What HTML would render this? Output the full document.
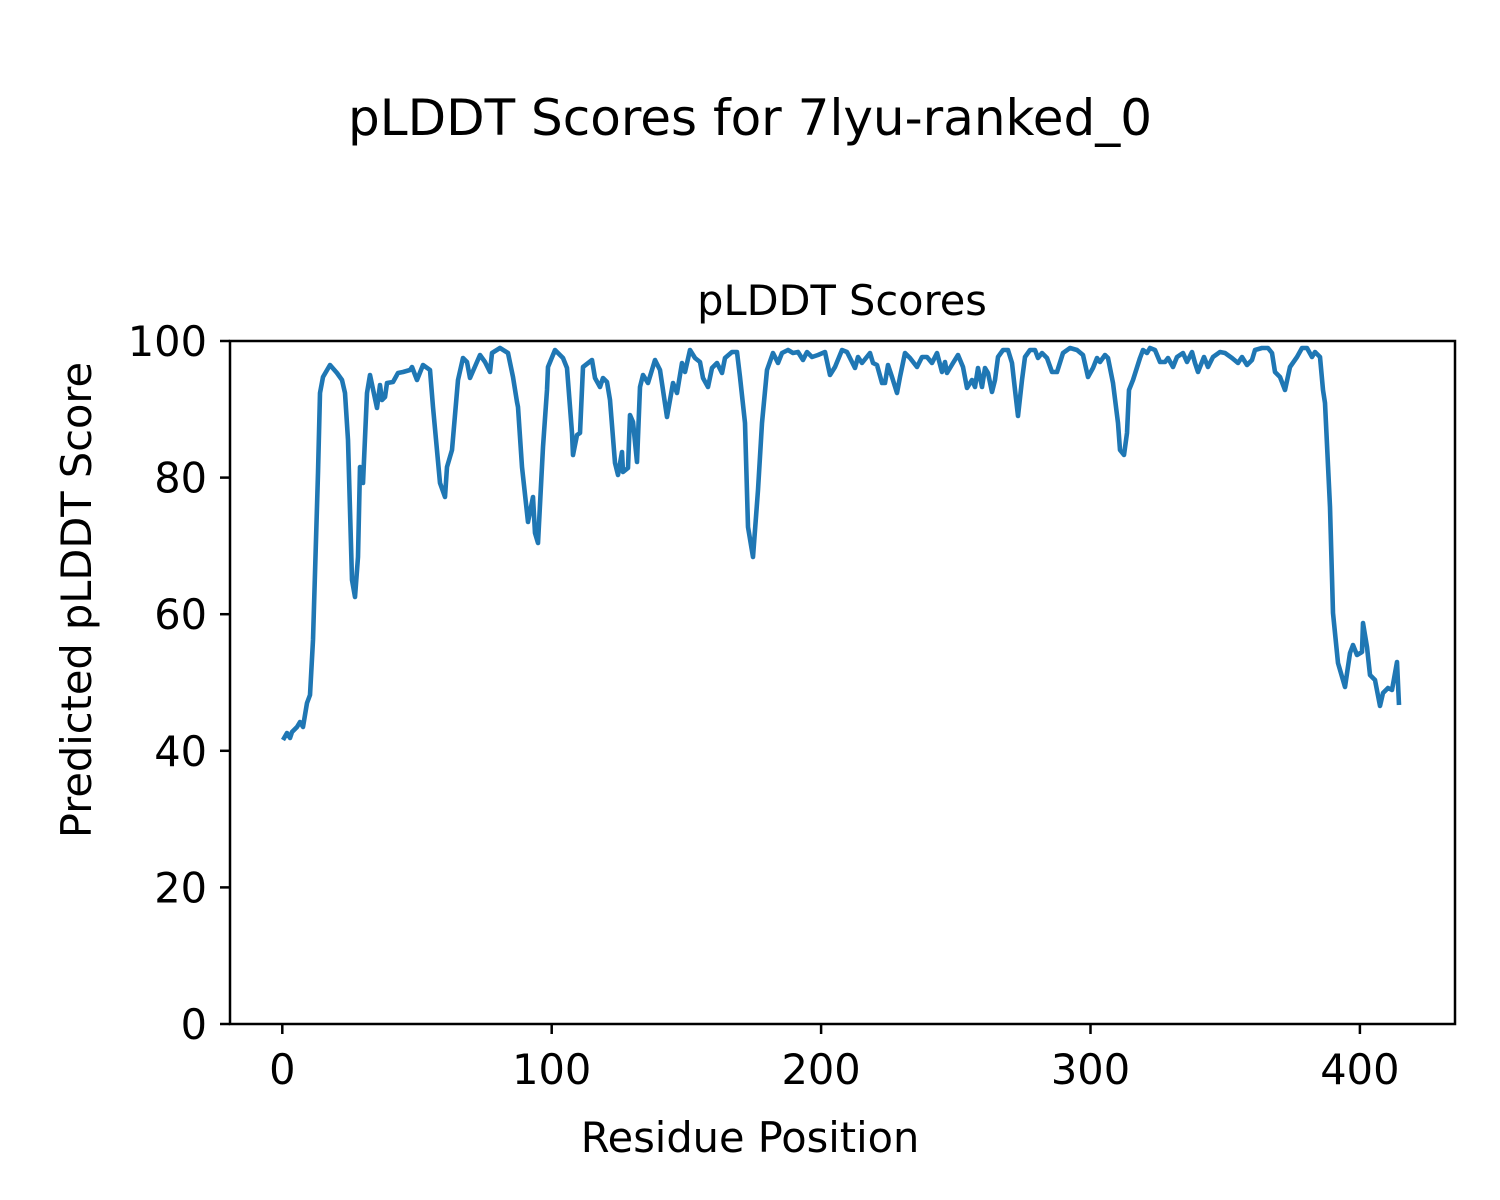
<!DOCTYPE html>
<html><head><meta charset="utf-8"><style>body{margin:0;background:#fff}svg{display:block}</style></head>
<body>
<svg width="1500" height="1200" xmlns="http://www.w3.org/2000/svg" font-family="DejaVu Sans, Liberation Sans, sans-serif">
<rect width="1500" height="1200" fill="#fff"/>
<text x="750" y="135" font-size="50" text-anchor="middle">pLDDT Scores for 7lyu-ranked_0</text>
<text x="842" y="315" font-size="41.5" text-anchor="middle">pLDDT Scores</text>
<polyline fill="none" stroke="#1f77b4" stroke-width="4.6" stroke-linejoin="round" stroke-linecap="butt" points="
283,740 287,733 290,738 292,732 297,727 300,722 303,727 307,703 310,695 313,640 318,473 320,393 323,377 330,365 337,373 342,380 345,393 348,440 352,580 355,597 358,557 360,467 363,483 367,393 370,375 377,408 380,385 382,400 385,397 387,383 393,382 398,373 403,372 410,370 412,367 417,380 423,365 430,370 433,407 440,483 445,497 447,467 452,450 458,380 463,358 467,362 470,378 480,355 485,362 490,372 492,353 500,348 508,353 513,377 517,402 518,407 522,467 528,522 533,497 535,533 538,543 543,447 547,390 548,367 555,350 563,358 567,368 572,433 573,455 577,435 580,433 583,367 592,360 595,378 600,387 603,378 607,382 610,400 615,463 618,475 622,452 623,472 628,468 630,415 633,422 637,462 640,387 643,375 648,383 655,360 660,370 667,417 673,383 677,393 682,363 685,372 690,350 695,358 700,362 703,378 708,387 712,368 717,363 722,373 725,358 732,352 737,352 740,377 745,423 748,527 753,557 758,490 762,423 767,370 773,353 778,363 782,353 788,350 793,353 798,352 803,360 807,352 812,357 818,355 825,352 830,375 835,367 842,350 847,352 855,368 858,357 862,363 870,353 873,363 877,365 882,383 885,383 888,365 892,377 897,393 900,377 905,353 910,358 917,367 922,357 927,357 932,363 937,353 942,372 945,362 947,373 953,363 958,355 963,367 967,388 972,380 975,387 978,368 982,387 985,368 988,373 992,392 995,380 998,357 1003,350 1008,350 1012,363 1015,390 1018,416 1022,380 1025,357 1030,350 1035,350 1038,358 1042,353 1047,358 1052,372 1057,372 1063,353 1070,348 1077,350 1083,355 1088,377 1093,368 1097,358 1100,362 1105,355 1108,358 1113,383 1118,423 1120,450 1124,455 1127,433 1129,390 1133,380 1140,358 1143,350 1147,353 1150,348 1155,350 1160,362 1165,362 1168,358 1173,367 1177,357 1183,353 1187,362 1192,352 1195,363 1198,372 1204,357 1208,367 1213,357 1220,352 1225,353 1232,358 1238,363 1242,357 1247,365 1252,360 1255,350 1262,348 1268,348 1272,353 1275,372 1280,377 1285,390 1290,367 1297,357 1302,348 1307,348 1312,357 1315,352 1320,357 1323,390 1325,403 1330,507 1333,613 1338,663 1345,687 1350,653 1353,645 1357,655 1362,652 1363,623 1367,647 1370,675 1375,680 1380,706 1383,693 1388,688 1392,690 1397,662 1399,705"/>
<rect x="230" y="341" width="1225" height="683" fill="none" stroke="#000" stroke-width="2.5"/>
<g stroke="#000" stroke-width="2.5">
<line x1="282.3" y1="1024" x2="282.3" y2="1034"/><line x1="551.7" y1="1024" x2="551.7" y2="1034"/><line x1="821.1" y1="1024" x2="821.1" y2="1034"/><line x1="1090.5" y1="1024" x2="1090.5" y2="1034"/><line x1="1359.9" y1="1024" x2="1359.9" y2="1034"/>
<line x1="220" y1="341" x2="230" y2="341"/><line x1="220" y1="477.6" x2="230" y2="477.6"/><line x1="220" y1="614.2" x2="230" y2="614.2"/><line x1="220" y1="750.8" x2="230" y2="750.8"/><line x1="220" y1="887.4" x2="230" y2="887.4"/><line x1="220" y1="1024" x2="230" y2="1024"/>
</g>
<g font-size="41.5" text-anchor="middle">
<text x="282.3" y="1084">0</text><text x="551.7" y="1084">100</text><text x="821.1" y="1084">200</text><text x="1090.5" y="1084">300</text><text x="1359.9" y="1084">400</text>
</g>
<g font-size="41.5" text-anchor="end">
<text x="207" y="356">100</text><text x="207" y="492.6">80</text><text x="207" y="629.2">60</text><text x="207" y="765.8">40</text><text x="207" y="902.4">20</text><text x="207" y="1039">0</text>
</g>
<text x="750" y="1152" font-size="41.5" text-anchor="middle">Residue Position</text>
<text transform="translate(91,600) rotate(-90)" font-size="41.5" text-anchor="middle">Predicted pLDDT Score</text>
</svg>
</body></html>
